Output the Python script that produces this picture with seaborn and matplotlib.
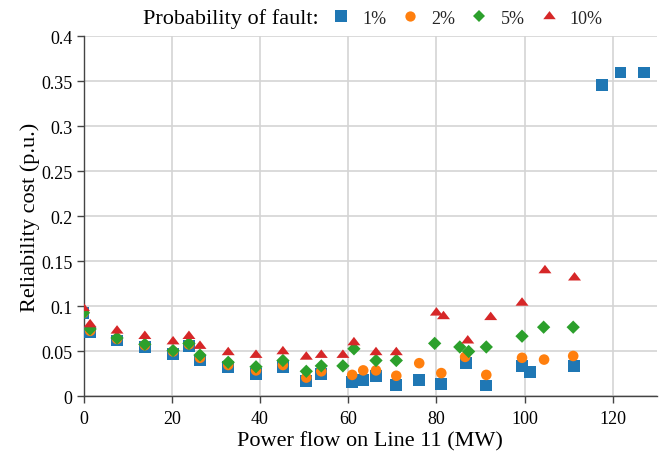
import matplotlib
matplotlib.use("Agg")
import matplotlib.pyplot as plt
import seaborn as sns
import pandas as pd
from matplotlib.lines import Line2D

# ---- data ----
x1 = [0, 1.5, 7.6, 13.9, 20.3, 23.9, 26.4, 32.8, 39.1, 45.2, 50.5, 53.9, 60.9, 63.4, 66.3,
      70.9, 76.1, 81.1, 86.7, 91.3, 99.4, 101.2, 111.2, 117.6, 121.7, 127.1]
y1 = [0.093, 0.071, 0.062, 0.055, 0.047, 0.056, 0.040, 0.033, 0.025, 0.033, 0.017, 0.025,
      0.016, 0.018, 0.023, 0.013, 0.018, 0.014, 0.037, 0.012, 0.034, 0.027, 0.034, 0.346,
      0.360, 0.360]

x2 = [0, 1.5, 7.6, 13.9, 20.3, 23.9, 26.4, 32.8, 39.1, 45.2, 50.5, 53.9, 60.9, 63.4, 66.3,
      70.9, 76.1, 81.1, 86.5, 91.3, 99.4, 104.4, 111.0]
y2 = [0.093, 0.073, 0.064, 0.057, 0.050, 0.058, 0.043, 0.035, 0.029, 0.035, 0.021, 0.028,
      0.024, 0.029, 0.029, 0.023, 0.037, 0.026, 0.044, 0.024, 0.043, 0.041, 0.045]

x3 = [0, 1.5, 7.6, 13.9, 20.3, 23.9, 26.4, 32.8, 39.1, 45.2, 50.5, 53.9, 58.8, 61.3, 66.3,
      70.9, 79.6, 85.3, 87.3, 91.3, 99.4, 104.3, 111.0]
y3 = [0.093, 0.075, 0.065, 0.058, 0.051, 0.059, 0.046, 0.038, 0.033, 0.040, 0.028, 0.034,
      0.034, 0.053, 0.040, 0.040, 0.059, 0.055, 0.050, 0.055, 0.067, 0.077, 0.077]

x4 = [0, 1.5, 7.6, 13.9, 20.3, 23.9, 26.4, 32.8, 39.1, 45.2, 50.5, 53.9, 58.8, 61.3, 66.3,
      70.9, 80.0, 81.6, 87.1, 92.3, 99.4, 104.6, 111.3]
y4 = [0.098, 0.080, 0.073, 0.067, 0.061, 0.067, 0.056, 0.049, 0.046, 0.050, 0.044, 0.046,
      0.046, 0.060, 0.049, 0.049, 0.093, 0.089, 0.062, 0.088, 0.104, 0.140, 0.132]

series_labels = ["1%", "2%", "5%", "10%"]
x_ticks = [0, 20, 40, 60, 80, 100, 120]
y_ticks = [0, 0.05, 0.1, 0.15, 0.2, 0.25, 0.3, 0.35, 0.4]
y_tick_labels = ["0", "0.05", "0.1", "0.15", "0.2", "0.25", "0.3", "0.35", "0.4"]

# ---- style ----
sns.set_theme(style="whitegrid")
plt.rcParams["font.family"] = ["Liberation Serif", "DejaVu Serif"]

colors = ["#1f77b4", "#ff7f0e", "#2ca02c", "#d62728"]
tri = [(0, 1.0), (-1.155, -0.5), (1.155, -0.5)]
markers = ["s", "o", "D", tri]
sizes = [70, 58, 46, 88]

fig = plt.figure(figsize=(6.66, 4.60), dpi=100)
ax = fig.add_axes([0.1254, 0.1359, 0.8611, 0.7826])

xs = [x1, x2, x3, x4]
ys = [y1, y2, y3, y4]
for xv, yv, lab, c, m, s in zip(xs, ys, series_labels, colors, markers, sizes):
    df = pd.DataFrame({"x": xv, "y": yv})
    sns.scatterplot(data=df, x="x", y="y", ax=ax, color=c, marker=m, s=s,
                    linewidth=0, edgecolor="none", zorder=3, legend=False)

ax.set_xlim(0, 130)
ax.set_ylim(0, 0.4)
ax.set_xticks(x_ticks)
ax.set_xticklabels([str(t) for t in x_ticks])
ax.set_yticks(y_ticks)
ax.set_yticklabels(y_tick_labels)

ax.grid(True, color="#d4d4d4", linewidth=1.2)
ax.set_axisbelow(True)
for side in ["top", "right"]:
    ax.spines[side].set_visible(False)
for side in ["left", "bottom"]:
    ax.spines[side].set_visible(True)
    ax.spines[side].set_color("#444444")
    ax.spines[side].set_linewidth(1.0)
ax.tick_params(axis="both", which="both", direction="out", length=5, width=1,
               color="#444444", labelsize=13, labelcolor="black",
               bottom=True, left=True)
ax.tick_params(axis="x", pad=5)
ax.tick_params(axis="y", pad=3)

ax.set_xlabel("Power flow on Line 11 (MW)", fontsize=16, color="black", labelpad=3)
ax.set_ylabel("Reliability cost (p.u.)", fontsize=16, color="black", labelpad=1)

# legend
fig.text(143 / 666, 1 - 19 / 460, "Probability of fault:", fontsize=16,
         ha="left", va="center", color="black")
handles = [Line2D([0], [0], linestyle="none", marker=m, color=c,
                  markersize=ms, markeredgewidth=0)
           for m, c, ms in zip(markers, colors, [8.0, 7.4, 6.5, 9.0])]
fig.legend(handles, series_labels, loc="center left",
           bbox_to_anchor=(332 / 666, 1 - 19 / 460), ncol=4, frameon=False,
           fontsize=13, handlelength=1.0, handletextpad=0.67, columnspacing=0.83,
           borderaxespad=0, borderpad=0)

fig.savefig("out.png", dpi=100)
